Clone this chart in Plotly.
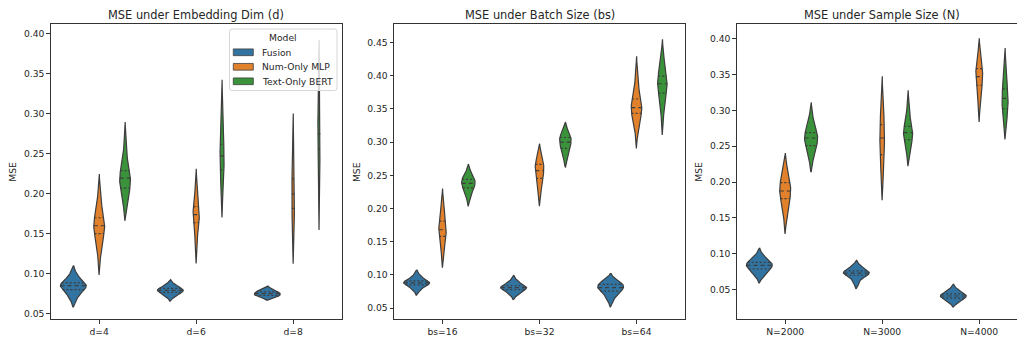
import numpy as np
import plotly.graph_objects as go

# ---------------- data ----------------
MODELS = ["Fusion", "Num-Only MLP", "Text-Only BERT"]
COLORS = ["#3274a1", "#e1812c", "#3a923a"]
EDGE = "#3d3d3d"

TITLES = ["MSE under Embedding Dim (d)", "MSE under Batch Size (bs)", "MSE under Sample Size (N)"]
LEGEND_TITLE = "Model"

D_CATS = ["d=4", "d=6", "d=8"]
D_FUSION = [
    [0.069, 0.0768, 0.080, 0.0826, 0.085, 0.0866, 0.0885, 0.0907, 0.099],
    [0.0713, 0.0749, 0.0765, 0.0778, 0.079, 0.0802, 0.0815, 0.0831, 0.0867],
    [0.0708, 0.0716, 0.0727, 0.0739, 0.075, 0.0761, 0.0773, 0.0784, 0.0806],
]
D_NUM = [
    [0.125, 0.1437, 0.150, 0.1553, 0.160, 0.1647, 0.170, 0.1763, 0.198],
    [0.138, 0.1578, 0.164, 0.1692, 0.1738, 0.1786, 0.184, 0.1904, 0.206],
    [0.154, 0.1704, 0.1817, 0.1912, 0.1997, 0.2088, 0.219, 0.2312, 0.259],
]
D_TEXT = [
    [0.193, 0.201, 0.207, 0.2137, 0.2196, 0.224, 0.229, 0.2349, 0.263],
    [0.208, 0.219, 0.230, 0.2392, 0.2474, 0.2543, 0.262, 0.2712, 0.305],
    [0.205, 0.244, 0.256, 0.2661, 0.275, 0.2842, 0.2945, 0.3068, 0.342],
]

BS_CATS = ["bs=16", "bs=32", "bs=64"]
BS_FUSION = [
    [0.0771, 0.0831, 0.085, 0.0866, 0.088, 0.0894, 0.091, 0.0929, 0.0991],
    [0.070, 0.0757, 0.0776, 0.0792, 0.0806, 0.082, 0.0836, 0.0855, 0.0911],
    [0.0624, 0.0719, 0.0756, 0.0783, 0.0806, 0.083, 0.0856, 0.0881, 0.0907],
]
BS_NUM = [
    [0.137, 0.1517, 0.158, 0.1633, 0.168, 0.1741, 0.181, 0.1892, 0.204],
    [0.225, 0.2381, 0.2454, 0.2515, 0.257, 0.2615, 0.2665, 0.2725, 0.276],
    [0.320, 0.338, 0.3434, 0.348, 0.352, 0.3581, 0.365, 0.3732, 0.400],
]
BS_TEXT = [
    [0.2173, 0.2266, 0.231, 0.2347, 0.238, 0.2408, 0.244, 0.2478, 0.2527],
    [0.278, 0.2847, 0.2906, 0.2956, 0.300, 0.3033, 0.307, 0.3105, 0.3145],
    [0.342, 0.3652, 0.374, 0.3814, 0.388, 0.3935, 0.3996, 0.4069, 0.424],
]

N_CATS = ["N=2000", "N=3000", "N=4000"]
N_FUSION = [
    [0.0694, 0.0754, 0.0787, 0.0815, 0.0839, 0.0858, 0.088, 0.0906, 0.097],
    [0.0594, 0.0681, 0.070, 0.0716, 0.0731, 0.0745, 0.076, 0.0779, 0.0828],
    [0.0323, 0.0361, 0.038, 0.0397, 0.0411, 0.0425, 0.044, 0.0458, 0.0504],
]
N_NUM = [
    [0.1525, 0.1702, 0.1769, 0.1825, 0.1875, 0.193, 0.1992, 0.2066, 0.2155],
    [0.214, 0.226, 0.2382, 0.2505, 0.2614, 0.2701, 0.280, 0.289, 0.308],
    [0.3094, 0.3273, 0.3349, 0.3413, 0.347, 0.3522, 0.358, 0.3649, 0.3746],
]
N_TEXT = [
    [0.235, 0.2441, 0.2508, 0.2564, 0.2614, 0.265, 0.269, 0.2738, 0.290],
    [0.245, 0.253, 0.2592, 0.2644, 0.269, 0.2731, 0.2777, 0.2832, 0.305],
    [0.288, 0.294, 0.3024, 0.310, 0.3167, 0.323, 0.330, 0.3384, 0.358],
]

PANELS = [
    (D_CATS, [D_FUSION, D_NUM, D_TEXT]),
    (BS_CATS, [BS_FUSION, BS_NUM, BS_TEXT]),
    (N_CATS, [N_FUSION, N_NUM, N_TEXT]),
]

# ---------------- layout constants (pixels) ----------------
W, H = 1017, 340
AX_LEFT = [50.7, 394.0, 736.7]
AX_W = 291.0
AX_TOP, AX_BOT = 24.3, 319.3
YRANGES = [(0.0429, 0.4121), (0.033, 0.4776), (0.0086, 0.4199)]
FONT = "DejaVu Sans"
TXT = "#262626"
AXC = "#333333"
FS = 9.2
VIOLIN_W = 0.8
LW = 1.2
# legend box (px)
LG_X0, LG_X1, LG_Y0, LG_Y1 = 229.5, 337.0, 29.0, 90.5
LG_TITLE_Y = 37.3
LG_ROW0, LG_ROW_STEP = 52.3, 14.5
LG_SW_X0, LG_SW_X1, LG_SW_H = 233.3, 253.3, 6.7
LG_TEXT_X = 260.3


def px(x):
    return x / W


def py(y):
    return 1 - y / H


def kde(obs):
    obs = np.asarray(obs, float)
    n = len(obs)
    bw = n ** (-1 / 5) * obs.std(ddof=1)
    support = np.linspace(obs.min() - 2 * bw, obs.max() + 2 * bw, 100)
    dens = np.exp(-0.5 * ((support[:, None] - obs[None, :]) / bw) ** 2).sum(1) / (n * bw * np.sqrt(2 * np.pi))
    return support, dens


fig = go.Figure()
each_w = VIOLIN_W / len(MODELS)
offsets = np.linspace(0, VIOLIN_W - each_w, len(MODELS)) - (VIOLIN_W - each_w) / 2
dwidth = each_w / 2

for p, (cats, series) in enumerate(PANELS):
    xa = "x" if p == 0 else f"x{p+1}"
    ya = "y" if p == 0 else f"y{p+1}"
    for i, cat in enumerate(cats):
        kdes = [kde(series[j][i]) for j in range(len(MODELS))]
        maxd = max(d.max() for _, d in kdes)
        for j, model in enumerate(MODELS):
            sup, dens = kdes[j]
            hw = dens / maxd * dwidth
            c = i + offsets[j]
            xs = np.concatenate([c - hw, (c + hw)[::-1], [c - hw[0]]])
            ys = np.concatenate([sup, sup[::-1], [sup[0]]])
            fig.add_trace(go.Scatter(
                x=xs, y=ys, xaxis=xa, yaxis=ya, mode="lines", fill="toself",
                fillcolor=COLORS[j], line=dict(color=EDGE, width=LW),
                name=model, showlegend=False, hoverinfo="skip",
            ))
            obs = np.asarray(series[j][i])
            q25, q50, q75 = np.percentile(obs, [25, 50, 75])
            for q, dash in [(q25, "2px,2px"), (q50, "4px,3px"), (q75, "2px,2px")]:
                k = np.argmin(np.abs(sup - q))
                wq = hw[k] * 0.99
                fig.add_trace(go.Scatter(
                    x=[c - wq, c + wq], y=[q, q], xaxis=xa, yaxis=ya, mode="lines",
                    line=dict(color=EDGE, width=LW, dash=dash),
                    showlegend=False, hoverinfo="skip",
                ))

layout = dict(
    width=W, height=H, margin=dict(l=0, r=0, t=0, b=0),
    paper_bgcolor="white", plot_bgcolor="white",
    font=dict(family=FONT, size=FS, color=TXT),
    showlegend=False,
)

annotations = []
shapes = []
for p, (cats, _) in enumerate(PANELS):
    left = AX_LEFT[p]
    right = min(left + AX_W, W)
    xr_end = -0.5 + 3 * (right - left) / AX_W
    xkey = "xaxis" if p == 0 else f"xaxis{p+1}"
    ykey = "yaxis" if p == 0 else f"yaxis{p+1}"
    anchor_x = "x" if p == 0 else f"x{p+1}"
    anchor_y = "y" if p == 0 else f"y{p+1}"
    layout[xkey] = dict(
        domain=[px(left), px(right)], anchor=anchor_y, range=[-0.5, xr_end],
        tickmode="array", tickvals=list(range(len(cats))), ticktext=cats,
        ticks="outside", ticklen=3.5, tickwidth=0.9, tickcolor=AXC,
        showline=True, linecolor=AXC, linewidth=1, mirror=True,
        showgrid=False, zeroline=False, tickfont=dict(size=FS, color=TXT),
    )
    layout[ykey] = dict(
        domain=[py(AX_BOT), py(AX_TOP)], anchor=anchor_x, range=list(YRANGES[p]),
        tick0=0, dtick=0.05, tickformat=".2f",
        ticks="outside", ticklen=3.5, tickwidth=0.9, tickcolor=AXC,
        showline=True, linecolor=AXC, linewidth=1, mirror=(p < 2),
        showgrid=False, zeroline=False, tickfont=dict(size=FS, color=TXT),
    )
    annotations.append(dict(
        text=TITLES[p], xref="paper", yref="paper",
        x=px(left + AX_W / 2), y=py(15), xanchor="center", yanchor="middle",
        showarrow=False, font=dict(size=11.4, color=TXT),
    ))
    annotations.append(dict(
        text="MSE", xref="paper", yref="paper",
        x=px(left - 37.7), y=py((AX_TOP + AX_BOT) / 2),
        xanchor="center", yanchor="middle", textangle=-90,
        showarrow=False, font=dict(size=FS, color=TXT),
    ))

# ---- legend (matplotlib-style box inside the first panel) ----
r = 2.5
x0, x1, y0, y1 = LG_X0, LG_X1, LG_Y0, LG_Y1
frame = (
    f"M {px(x0 + r)},{py(y0)} L {px(x1 - r)},{py(y0)} Q {px(x1)},{py(y0)} {px(x1)},{py(y0 + r)} "
    f"L {px(x1)},{py(y1 - r)} Q {px(x1)},{py(y1)} {px(x1 - r)},{py(y1)} "
    f"L {px(x0 + r)},{py(y1)} Q {px(x0)},{py(y1)} {px(x0)},{py(y1 - r)} "
    f"L {px(x0)},{py(y0 + r)} Q {px(x0)},{py(y0)} {px(x0 + r)},{py(y0)} Z"
)
shapes.append(dict(type="path", path=frame, xref="paper", yref="paper",
                   fillcolor="rgba(255,255,255,0.8)", line=dict(color="#d6d6d6", width=1),
                   layer="above"))
annotations.append(dict(
    text=LEGEND_TITLE, xref="paper", yref="paper", x=px((x0 + x1) / 2), y=py(LG_TITLE_Y),
    xanchor="center", yanchor="middle", showarrow=False, font=dict(size=FS, color=TXT),
))
for j, model in enumerate(MODELS):
    yc = LG_ROW0 + j * LG_ROW_STEP
    shapes.append(dict(type="rect", xref="paper", yref="paper",
                       x0=px(LG_SW_X0), x1=px(LG_SW_X1),
                       y0=py(yc + LG_SW_H / 2), y1=py(yc - LG_SW_H / 2),
                       fillcolor=COLORS[j], line=dict(color=EDGE, width=0.8), layer="above"))
    annotations.append(dict(
        text=model, xref="paper", yref="paper", x=px(LG_TEXT_X), y=py(yc),
        xanchor="left", yanchor="middle", showarrow=False, font=dict(size=FS, color=TXT),
    ))

layout["annotations"] = annotations
layout["shapes"] = shapes

fig.update_layout(**layout)
fig.write_html(
    "out.html",
    config={"displayModeBar": False},
    post_script="document.body.style.margin='0px';document.body.style.overflow='hidden';"
                "document.documentElement.style.overflow='hidden';",
)
